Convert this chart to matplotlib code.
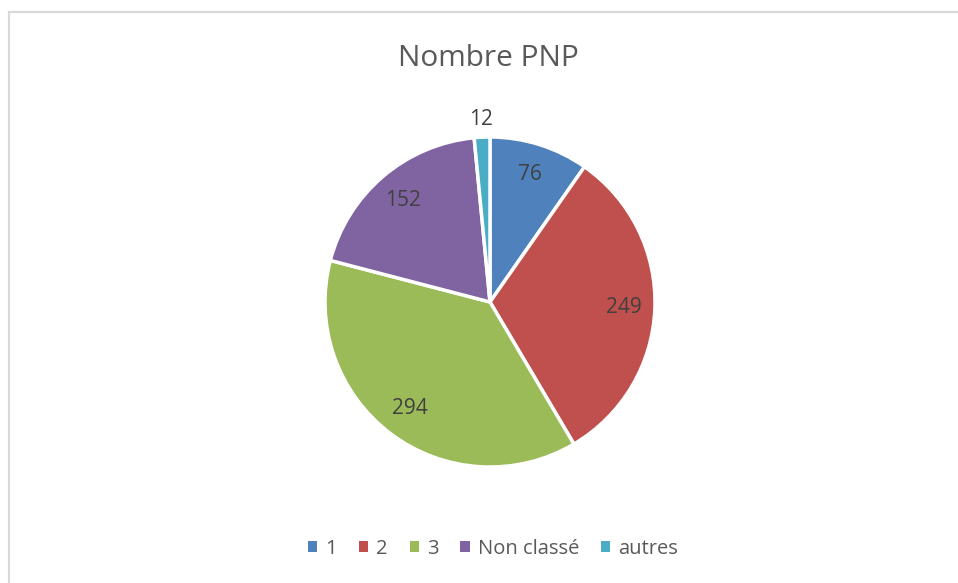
import numpy as np
import matplotlib.pyplot as plt
from matplotlib.lines import Line2D
from matplotlib.patches import Patch

labels = ['1', '2', '3', 'Non classé', 'autres']
values = [76, 249, 294, 152, 12]
colors = ['#4F81BD', '#C0504D', '#9BBB59', '#8064A2', '#4BACC6']

plt.rcParams['font.family'] = ['Open Sans', 'DejaVu Sans']

fig = plt.figure(figsize=(9.58, 5.83), dpi=100)

# cadre gris (haut et gauche seulement visibles)
fig.add_artist(Line2D([9 / 958, 1], [1 - 12 / 583, 1 - 12 / 583], color='#d9d9d9', lw=1.5))
fig.add_artist(Line2D([9 / 958, 9 / 958], [0, 1 - 12 / 583], color='#d9d9d9', lw=1.5))

ax = fig.add_axes([325 / 958, 116 / 583, 330 / 958, 330 / 583])
wedges, _ = ax.pie(values, colors=colors, startangle=90, counterclock=False,
                   wedgeprops=dict(edgecolor='white', linewidth=2.5))
ax.set_xlim(-1, 1)
ax.set_ylim(-1, 1)
ax.set_aspect('equal')

# etiquettes de valeurs
for w, v in zip(wedges, values):
    ang = np.deg2rad((w.theta1 + w.theta2) / 2)
    r = 1.11 if v == 12 else 0.81
    ax.text(r * np.cos(ang), r * np.sin(ang), str(v), ha='center', va='center',
            fontsize=15, color='#404040')

fig.text(488 / 958, 1 - 59 / 583, 'Nombre PNP', ha='center', va='center',
         fontsize=21.5, color='#595959')

handles = [Patch(facecolor=c, edgecolor='none') for c in colors]
fig.legend(handles, labels, loc='center', bbox_to_anchor=(493 / 958, 1 - 549 / 583),
           ncol=5, frameon=False, fontsize=14.5, labelcolor='#595959',
           handlelength=0.45, handleheight=0.45, handletextpad=0.4, columnspacing=1.1)

fig.savefig('out.png', dpi=100)
